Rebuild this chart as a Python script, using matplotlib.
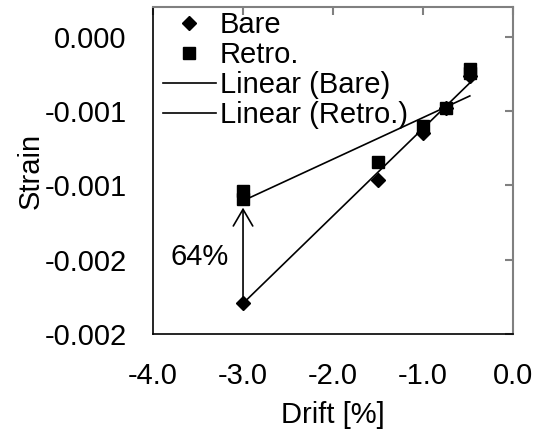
import matplotlib
matplotlib.use("Agg")
import matplotlib.pyplot as plt
import numpy as np

plt.rcParams['font.family'] = ['Liberation Sans', 'DejaVu Sans']

# ---- data ----
bare_drift = [-3.0, -1.5, -1.0, -0.75, -0.48]
bare_strain = [-0.001789, -0.000964, -0.000645, -0.000477, -0.000261]

retro_drift = [-3.0, -3.0, -1.5, -1.0, -0.75, -0.48, -0.48]
retro_strain = [-0.001035, -0.00109, -0.000841, -0.000600, -0.000477, -0.000214, -0.000243]

# trendline coefficients (slope, intercept)
trend_bare = [0.0005886, -0.0000283]
trend_retro = [0.0002799, -0.000264]

x_ticks = [-4.0, -3.0, -2.0, -1.0, 0.0]
x_ticklabels = ['-4.0', '-3.0', '-2.0', '-1.0', '0.0']
y_ticks = [0.0, -0.0005, -0.001, -0.0015, -0.002]
y_ticklabels = ['0.000', '-0.001', '-0.001', '-0.002', '-0.002']

arrow_from = (-3.0, -0.00175)
arrow_to = (-3.0, -0.00115)
arrow_text = '64%'
arrow_text_pos = (-3.48, -0.00148)

FS = 21

fig = plt.figure(figsize=(5.39, 4.32), dpi=100)
ax = fig.add_axes([0.2839, 0.2269, 0.9518 - 0.2839, 0.9838 - 0.2269])

ax.plot(bare_drift, bare_strain, linestyle='none', marker='D', markersize=7.5,
        color='black', label='Bare', zorder=3)
ax.plot(retro_drift, retro_strain, linestyle='none', marker='s', markersize=9,
        color='black', label='Retro.', zorder=3)

xb = np.array([min(bare_drift), max(bare_drift)])
ax.plot(xb, trend_bare[0] * xb + trend_bare[1], color='black', lw=1.2,
        label='Linear (Bare)', zorder=2)
xr = np.array([min(retro_drift), max(retro_drift)])
ax.plot(xr, trend_retro[0] * xr + trend_retro[1], color='black', lw=1.2,
        label='Linear (Retro.)', zorder=2)

ax.annotate('', xy=arrow_to, xytext=arrow_from,
            arrowprops=dict(arrowstyle='->,head_length=1.2,head_width=0.7',
                            color='black', lw=1.2, shrinkA=0, shrinkB=0))
ax.text(arrow_text_pos[0], arrow_text_pos[1], arrow_text, fontsize=FS,
        ha='center', va='center')

ax.set_xlim(-4.0, 0.0)
ax.set_ylim(-0.002, 0.0002)
ax.set_xticks(x_ticks)
ax.set_xticklabels(x_ticklabels)
ax.set_yticks(y_ticks)
ax.set_yticklabels(y_ticklabels)

ax.tick_params(axis='both', labelsize=FS, colors='black')
ax.tick_params(axis='x', bottom=False, top=True, direction='in', length=6,
               color='#808080', width=1.5, pad=20)
ax.tick_params(axis='y', left=False, right=True, direction='in', length=6,
               color='#808080', width=1.5, pad=19)

for side in ['left', 'bottom']:
    ax.spines[side].set_color('black')
    ax.spines[side].set_linewidth(1.2)
for side in ['top', 'right']:
    ax.spines[side].set_color('#808080')
    ax.spines[side].set_linewidth(1.5)

ax.set_xlabel('Drift [%]', fontsize=FS, labelpad=8)
ax.set_ylabel('Strain', fontsize=FS, labelpad=0)

leg = ax.legend(loc='upper left', bbox_to_anchor=(0.028, 0.988), frameon=False,
                fontsize=FS, handlelength=1.8, handletextpad=0.15,
                labelspacing=0.07, borderaxespad=0.0, borderpad=0.0)

fig.savefig('out.png', dpi=100)
